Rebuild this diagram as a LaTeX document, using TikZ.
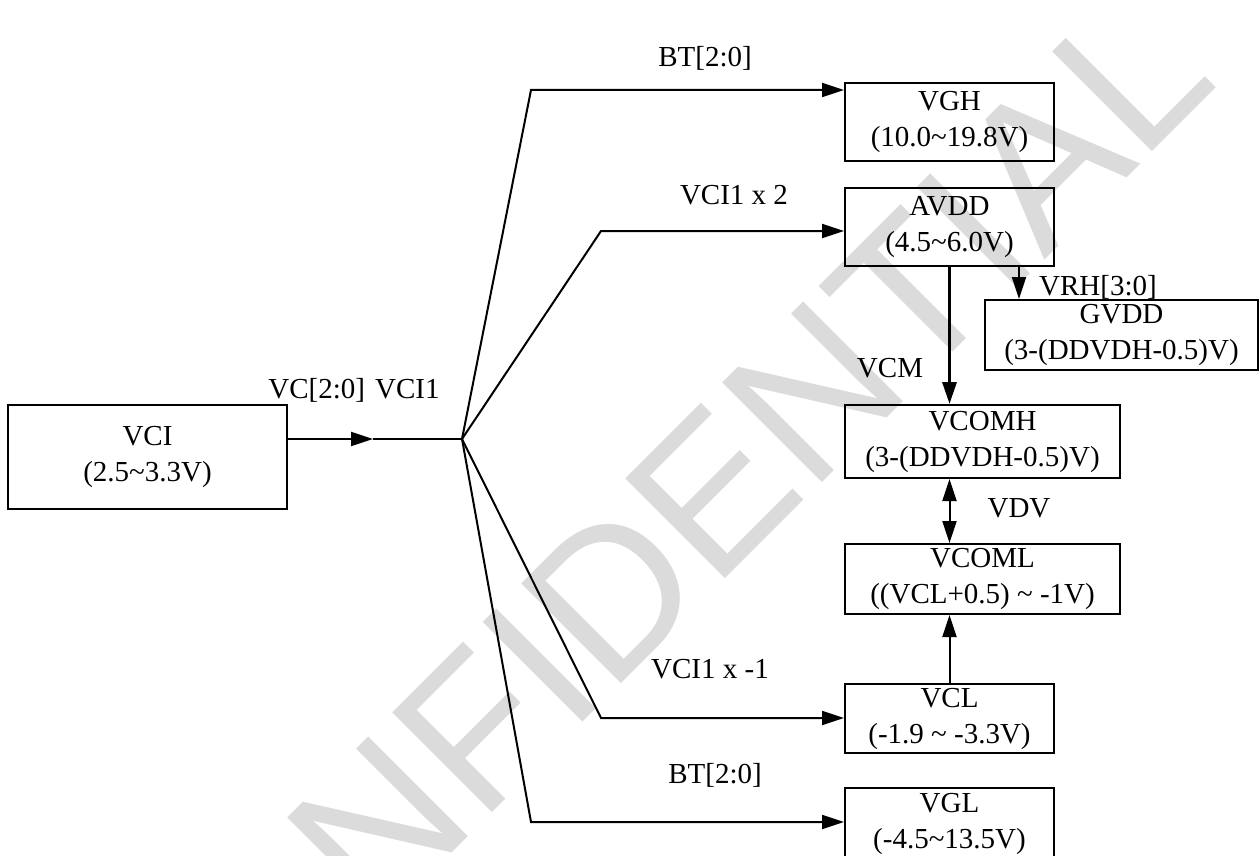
\documentclass[tikz,border=0pt]{standalone}
\usepackage{fontspec}
\setmainfont{Liberation Serif}
\newfontfamily\wmfont{Liberation Sans}
\usetikzlibrary{arrows.meta,calc}
\begin{document}
\begin{tikzpicture}[x=1pt,y=-1pt,
  box/.style={draw, line width=2pt, inner sep=0pt, align=center, font=\fontsize{29}{36}\selectfont},
  lbl/.style={inner sep=0pt, anchor=base, font=\fontsize{29}{36}\selectfont},
  wire/.style={line width=2pt},
  arr/.style={wire, -{Triangle[length=22pt,width=14pt]}},
  darr/.style={wire, {Triangle[length=22pt,width=14pt]}-{Triangle[length=22pt,width=14pt]}},
  wm/.style={inner sep=0pt, rotate=45, text=black!14, font=\wmfont\fontsize{205}{205}\selectfont}
  ]
\useasboundingbox[fill=white] (0,0) rectangle (1260,856);
% watermark
\node[wm] (wmark) at (640,565) {CONFIDENTIAL};

% boxes
\node[box, minimum width=279pt, minimum height=104pt] (vci) at (147.5,457) {VCI\\(2.5\textasciitilde3.3V)};
\node[box, minimum width=209pt, minimum height=78pt] (vgh) at (949.5,122) {VGH\\(10.0\textasciitilde19.8V)};
\node[box, minimum width=209pt, minimum height=78pt] (avdd) at (949.5,227) {AVDD\\(4.5\textasciitilde6.0V)};
\node[box, minimum width=273pt, minimum height=70pt] (gvdd) at (1121.5,335) {GVDD\\(3-(DDVDH-0.5)V)};
\node[box, minimum width=275pt, minimum height=73pt] (vcomh) at (982.5,441.5) {VCOMH\\(3-(DDVDH-0.5)V)};
\node[box, minimum width=275pt, minimum height=70pt] (vcoml) at (982.5,579) {VCOML\\((VCL+0.5) \textasciitilde{} -1V)};
\node[box, minimum width=209pt, minimum height=69pt] (vcl) at (949.5,718.5) {VCL\\(-1.9 \textasciitilde{} -3.3V)};
\node[box, minimum width=209pt, minimum height=72pt] (vgl) at (949.5,824) {VGL\\(-4.5\textasciitilde13.5V)};

% labels
\node[lbl] (l1) at (354,398) {VC[2:0]\hspace{0.35em}VCI1};
\node[lbl] (l2) at (705,67) {BT[2:0]};
\node[lbl] (l3) at (734,204) {VCI1 x 2};
\node[lbl] (l4) at (710,678) {VCI1 x -1};
\node[lbl] (l5) at (715,783) {BT[2:0]};
\node[lbl] (l6) at (890,377) {VCM};
\node[lbl] (l7) at (1098,295) {VRH[3:0]};
\node[lbl] (l8) at (1019,517) {VDV};

% junction and bends
\coordinate (J) at (462,439);
\coordinate (M) at (373,439);
\coordinate (b1) at (531,90);
\coordinate (b2) at (601,231);
\coordinate (b3) at (601,718);
\coordinate (b4) at (531,822);
\coordinate (gx) at (1019,0);

\draw[arr] (vci.east |- J) -- (M);
\draw[wire] (M) -- (J);
\draw[arr] (J) -- (b1) -- (b1 -| vgh.west);
\draw[arr] (J) -- (b2) -- (b2 -| avdd.west);
\draw[arr] (J) -- (b3) -- (b3 -| vcl.west);
\draw[arr] (J) -- (b4) -- (b4 -| vgl.west);

\draw[arr] (gx |- avdd.south) -- (gx |- gvdd.north);
\draw[arr, line width=3.2pt] (avdd.south) -- (avdd.south |- vcomh.north);
\draw[darr] (vcl.north |- vcomh.south) -- (vcl.north |- vcoml.north);
\draw[arr] (vcl.north) -- (vcl.north |- vcoml.south);
\end{tikzpicture}
\end{document}
